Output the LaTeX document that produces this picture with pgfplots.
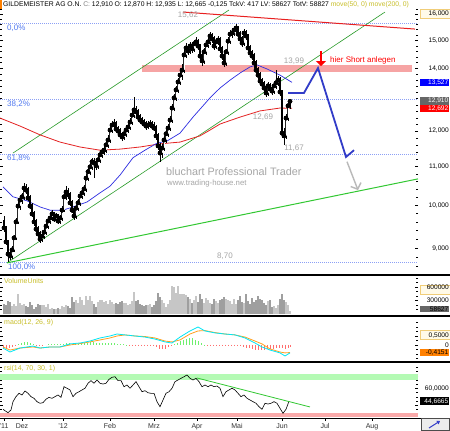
\documentclass[border=0pt]{standalone}
\usepackage{pgfplots}
\pgfplotsset{compat=1.18}
\usepackage{pgfplotstable}
\usepackage{fontspec}
\setmainfont{Liberation Sans}
\usetikzlibrary{arrows.meta}

\definecolor{fibblue}{RGB}{140,160,245}
\definecolor{fibtxt}{RGB}{80,120,240}
\definecolor{bandpink}{RGB}{246,164,164}
\definecolor{trendred}{RGB}{232,32,32}
\definecolor{chgreen}{RGB}{40,155,40}
\definecolor{lgreen}{RGB}{50,200,50}
\definecolor{maBlue}{RGB}{45,45,225}
\definecolor{maRed}{RGB}{228,35,35}
\definecolor{projblue}{RGB}{50,60,200}
\definecolor{paneltxt}{RGB}{200,190,40}
\definecolor{valgrey}{RGB}{165,165,165}
\definecolor{macdcyan}{RGB}{0,230,245}
\definecolor{macdorange}{RGB}{255,160,30}
\definecolor{histgreen}{RGB}{110,240,110}
\definecolor{histred}{RGB}{255,110,110}
\definecolor{rsigreen}{RGB}{180,250,180}
\definecolor{rsired}{RGB}{250,170,170}
\definecolor{cream}{RGB}{255,250,232}
\definecolor{creamedge}{RGB}{240,205,120}

\pgfplotstableread{
x o h l c
4 9.65 9.74 9.36 9.46
6 9.46 9.50 9.07 9.14
8 9.14 9.18 8.70 8.87
10 8.87 8.96 8.74 8.83
12 8.83 9.05 8.76 8.96
14 8.96 9.30 8.92 9.23
16 9.23 9.69 9.18 9.60
18 9.60 10.08 9.55 9.98
20 9.98 10.23 9.88 10.13
22 10.13 10.31 10.03 10.21
24 10.21 10.56 10.13 10.43
26 10.43 10.54 10.28 10.38
28 10.38 10.46 10.11 10.18
30 10.18 10.26 9.91 9.98
32 9.98 10.06 9.71 9.79
34 9.79 9.86 9.50 9.60
36 9.60 9.67 9.34 9.43
38 9.43 9.50 9.23 9.32
40 9.32 9.39 9.12 9.20
42 9.20 9.36 9.14 9.27
44 9.27 9.46 9.20 9.36
46 9.36 9.60 9.30 9.50
48 9.50 9.71 9.43 9.62
50 9.62 9.79 9.55 9.69
52 9.69 9.88 9.62 9.79
54 9.79 9.83 9.60 9.67
56 9.67 9.81 9.60 9.74
58 9.74 9.79 9.55 9.62
60 9.62 9.76 9.55 9.69
62 9.69 9.98 9.62 9.88
64 9.88 10.33 9.83 10.21
66 10.21 10.48 10.13 10.33
68 10.33 10.43 10.16 10.26
70 10.26 10.33 9.98 10.06
72 10.06 10.13 9.81 9.88
74 9.88 9.96 9.65 9.74
76 9.74 10.01 9.67 9.93
78 9.93 10.16 9.86 10.06
80 10.06 10.33 9.98 10.23
82 10.23 10.41 10.16 10.31
84 10.31 10.51 10.23 10.41
86 10.41 10.80 10.33 10.69
88 10.69 10.96 10.61 10.86
90 10.86 11.10 10.77 10.99
92 10.99 11.24 10.91 11.13
94 11.13 11.24 10.69 11.10
96 11.10 11.18 10.91 11.02
98 11.02 11.29 10.94 11.18
100 11.18 11.43 11.10 11.32
102 11.32 11.51 11.24 11.40
104 11.40 11.57 11.32 11.45
106 11.45 11.71 11.37 11.60
108 11.60 11.89 11.51 11.74
110 11.74 12.15 11.65 12.03
112 12.03 12.30 11.94 12.18
114 12.18 12.36 12.09 12.21
116 12.21 12.30 11.97 12.06
118 12.06 12.15 11.89 12.00
120 12.00 12.09 11.80 11.89
122 11.89 11.97 11.71 11.83
124 11.83 12.03 11.74 11.92
126 11.92 12.15 11.83 12.03
128 12.03 12.24 11.94 12.12
130 12.12 12.39 12.03 12.27
132 12.27 12.64 12.18 12.48
134 12.48 13.05 12.39 12.64
136 12.64 12.77 12.45 12.58
138 12.58 12.67 12.33 12.42
140 12.42 12.52 12.21 12.33
142 12.33 12.42 12.15 12.27
144 12.27 12.36 12.09 12.21
146 12.21 12.30 12.03 12.15
148 12.15 12.30 12.06 12.18
150 12.18 12.33 12.09 12.21
152 12.21 12.30 12.03 12.15
154 12.15 12.27 12.00 12.09
156 12.09 12.18 11.74 11.86
158 11.86 11.94 11.45 11.57
160 11.57 11.65 11.13 11.37
162 11.37 11.63 11.24 11.51
164 11.51 11.86 11.43 11.74
166 11.74 12.03 11.65 11.92
168 11.92 12.21 11.83 12.09
170 12.09 12.45 12.00 12.33
172 12.33 12.83 12.24 12.70
174 12.70 13.15 12.61 13.02
176 13.02 13.41 12.92 13.28
178 13.28 13.67 13.18 13.54
180 13.54 13.94 13.44 13.77
182 13.77 14.15 13.60 13.94
184 13.94 14.65 13.84 14.47
186 14.47 14.90 14.36 14.72
188 14.72 14.87 14.47 14.61
190 14.61 14.94 14.51 14.79
192 14.79 14.90 14.54 14.69
194 14.69 15.01 14.58 14.87
196 14.87 15.12 14.76 14.94
198 14.94 15.05 14.65 14.79
200 14.79 14.87 14.29 14.43
202 14.43 14.54 14.08 14.26
204 14.26 14.72 14.15 14.58
206 14.58 14.97 14.47 14.83
208 14.83 15.08 14.72 14.94
210 14.94 15.31 14.83 15.16
212 15.16 15.27 14.90 15.05
214 15.05 15.16 14.65 14.79
216 14.79 15.08 14.69 14.94
218 14.94 15.16 14.83 15.01
220 15.01 15.12 14.54 14.69
222 14.69 14.79 14.29 14.43
224 14.43 14.54 14.05 14.19
226 14.19 14.69 14.08 14.58
228 14.58 15.12 14.47 14.97
230 14.97 15.38 14.87 15.23
232 15.23 15.46 15.08 15.27
234 15.27 15.53 15.16 15.38
236 15.38 15.61 15.27 15.46
238 15.46 15.53 15.08 15.23
240 15.23 15.34 14.90 15.05
242 15.05 15.16 14.76 14.90
244 14.90 15.42 14.79 15.27
246 15.27 15.38 15.01 15.16
248 15.16 15.23 14.61 14.72
250 14.72 14.83 14.40 14.54
252 14.54 14.65 14.29 14.43
254 14.43 14.54 14.01 14.19
256 14.19 14.29 13.81 13.94
258 13.94 14.05 13.64 13.77
260 13.77 13.87 13.44 13.57
262 13.57 13.67 13.34 13.47
264 13.47 13.57 13.21 13.34
266 13.34 13.44 13.05 13.18
268 13.18 13.54 13.08 13.41
270 13.41 13.51 13.18 13.31
272 13.31 13.44 13.11 13.24
274 13.24 13.54 13.15 13.41
276 13.41 13.94 13.31 13.51
278 13.51 13.74 13.41 13.60
280 13.60 13.70 13.08 13.21
282 13.21 13.28 11.80 11.94
284 11.94 12.09 11.60 11.86
286 11.86 12.52 11.77 12.39
288 12.39 12.89 12.30 12.77
290 12.87 12.935 12.665 12.91
}\candles

\pgfplotstableread{
x v
12 180000
14 220000
16 170000
18 450000
20 250000
22 200000
24 230000
42 190000
44 210000
46 160000
48 230000
50 120000
52 140000
56 110000
60 100000
62 170000
64 150000
66 200000
76 320000
78 240000
80 380000
82 300000
84 200000
86 400000
88 300000
90 390000
92 280000
98 260000
100 300000
102 320000
104 260000
106 280000
108 230000
110 300000
112 260000
114 220000
124 240000
126 250000
128 200000
130 230000
132 290000
134 490000
148 190000
150 220000
162 320000
164 250000
166 160000
168 220000
170 300000
172 610000
174 600000
176 460000
178 620000
180 450000
182 440000
184 440000
186 420000
190 330000
194 300000
196 400000
204 250000
206 360000
208 300000
210 240000
216 280000
218 250000
226 330000
228 300000
230 280000
232 230000
234 330000
236 220000
244 250000
268 280000
274 170000
276 140000
278 200000
286 260000
288 200000
290 58627
}\volup

\pgfplotstableread{
x v
4 230000
6 200000
8 280000
10 260000
26 180000
28 150000
30 260000
32 200000
34 120000
36 150000
38 230000
40 200000
54 100000
58 130000
68 180000
70 140000
72 380000
74 260000
94 220000
96 160000
116 250000
118 230000
120 260000
122 280000
136 280000
138 300000
140 230000
142 200000
144 180000
146 200000
152 160000
154 200000
156 280000
158 470000
160 380000
188 380000
192 250000
198 260000
200 450000
202 330000
212 230000
214 330000
220 300000
222 340000
224 380000
238 300000
240 400000
242 260000
246 450000
248 280000
250 230000
252 350000
254 260000
256 300000
258 400000
260 330000
262 300000
264 250000
266 200000
270 300000
272 160000
280 330000
282 440000
284 300000
}\voldn

\pgfplotsset{
  panel/.style={
    scale only axis, width=418pt, xmin=0, xmax=418, anchor=south west,
    axis line style={draw=none}, xtick=\empty,
    ytick pos=both, yticklabel pos=right,
    scaled y ticks=false,
    tick style={black, line width=0.4pt},
    major tick length=3pt, minor tick length=1.8pt,
    yticklabel style={font=\fontsize{6.6}{7}\selectfont, anchor=east, xshift=32pt, inner sep=1pt},
    /pgf/number format/assume math mode=true,
  },
}

\begin{document}
\begin{tikzpicture}
\path[use as bounding box] (0pt,0pt) rectangle (450pt,431pt);
\fill[white] (0pt,0pt) rectangle (450pt,431pt);
% cream label boxes (right column)
\filldraw[fill=cream, draw=creamedge, line width=0.5pt] (420.5pt,412.5pt) rectangle (450pt,421.5pt);
\filldraw[fill=cream, draw=creamedge, line width=0.5pt] (420.5pt,136.5pt) rectangle (450pt,145.5pt);
\filldraw[fill=cream, draw=creamedge, line width=0.5pt] (420.5pt,91.5pt) rectangle (450pt,100.5pt);
\fill[orange] (0pt,422pt) rectangle (2pt,431pt);

% ================= MAIN PRICE PANEL =================
\begin{axis}[panel, at={(0pt,157pt)}, height=266pt,
  ymode=log, ymin=8.446, ymax=16.24,
  ytick={9,10,11,12,14,15,16},
  yticklabels={{9,000},{10,000},{11,000},{12,000},{14,000},{15,000},{16,000}},
  minor ytick={8.6,8.8,9.2,9.4,9.6,9.8,10.2,10.4,10.6,10.8,11.2,11.4,11.6,11.8,12.2,12.4,12.6,12.8,13,13.2,13.4,13.6,13.8,14.2,14.4,14.6,14.8,15.2,15.4,15.6,15.8,16.2},
]
\addplot[fill=bandpink, draw=none] coordinates {(142,13.87) (412,13.87) (412,14.12) (142,14.12)};
\addplot[fibblue, line width=0.8pt, dash pattern=on 1pt off 1pt] coordinates {(0,15.62) (418,15.62)};
\addplot[fibblue, line width=0.8pt, dash pattern=on 1pt off 1pt] coordinates {(0,12.98) (418,12.98)};
\addplot[fibblue, line width=0.8pt, dash pattern=on 1pt off 1pt] coordinates {(0,11.34) (418,11.34)};
\addplot[fibblue, line width=0.8pt, dash pattern=on 1pt off 1pt] coordinates {(0,8.70) (418,8.70)};
\addplot[chgreen, line width=0.6pt] coordinates {(13,11.37) (229,16.16)};
\addplot[chgreen, line width=0.6pt] coordinates {(7,8.68) (385,16.08)};
\addplot[lgreen, line width=1pt] coordinates {(7,8.68) (418,10.67)};
\addplot[trendred, line width=1pt] coordinates {(183,16.08) (415,15.42)};
\addplot[maRed, line width=0.8pt] coordinates {(0,12.39) (20,12.15) (40,11.89) (60,11.68) (80,11.54) (100,11.45) (120,11.48) (140,11.54) (160,11.63) (180,11.68) (200,11.86) (210,12.03) (220,12.21) (240,12.42) (260,12.61) (280,12.70) (292,12.69)};
\addplot[maBlue, line width=0.7pt] coordinates {(3,10.46) (13,10.21) (27,10.11) (40,9.96) (50,9.88) (63,9.88) (73,9.96) (87,10.08) (100,10.31) (110,10.48) (120,10.77) (133,11.24) (145,11.45) (157,11.65) (167,11.71) (180,11.94) (193,12.42) (210,13.02) (220,13.34) (230,13.60) (240,13.84) (250,14.05) (257,14.12) (267,13.98) (280,13.77) (292,13.527)};
% wicks
\addplot[only marks, mark=none,
  error bars/.cd, y dir=both, y explicit, error mark=none,
  error bar style={line width=0.4pt, black}]
  table[x=x, y=c, y error plus expr={\thisrow{h}-\thisrow{c}}, y error minus expr={\thisrow{c}-\thisrow{l}}] {\candles};
% falling bodies (black)
\addplot[only marks, mark=none,
  error bars/.cd, y dir=plus, y explicit, error mark=none,
  error bar style={line width=1.4pt, black}]
  table[x=x, y=c, y error plus expr={max(\thisrow{o}-\thisrow{c},0)}] {\candles};
% rising bodies (hollow: outline, then white core)
\addplot[only marks, mark=none,
  error bars/.cd, y dir=minus, y explicit, error mark=none,
  error bar style={line width=1.6pt, black!85}]
  table[x=x, y=c, y error minus expr={max(\thisrow{c}-\thisrow{o},0)}] {\candles};
\addplot[only marks, mark=none,
  error bars/.cd, y dir=minus, y explicit, error mark=none,
  error bar style={line width=0.6pt, white}]
  table[x=x, y=c, y error minus expr={max(\thisrow{c}-\thisrow{o},0)}] {\candles};
\addplot[projblue, line width=1.8pt] coordinates {(288,13.18) (304,13.18) (318,14.01) (346,11.26) (354,11.45)};
\end{axis}

% overlay axis for arrows
\begin{axis}[scale only axis, width=418pt, height=266pt, at={(0pt,157pt)}, anchor=south west,
  xmin=0, xmax=418, ymode=log, ymin=8.446, ymax=16.24, hide axis]
\addplot[gray!55, line width=1.4pt, -{Straight Barb[length=5pt,width=11pt]}] coordinates {(347,11.13) (358,10.38)};
\addplot[red, line width=2.6pt, -{Triangle[length=5pt,width=10pt]}] coordinates {(321,14.60) (321,14.08)};
\end{axis}

% ================= VOLUME PANEL =================
\begin{axis}[panel, at={(0pt,117pt)}, height=37pt,
  ymin=0, ymax=820000,
  ytick={300000,600000}, yticklabels={300000,600000},
  minor ytick={100000,200000,400000,500000,700000,800000},
]
\addplot[ycomb, draw=gray!45, line width=1.2pt, mark=none] table[x=x,y=v] {\volup};
\addplot[ycomb, draw=gray!75, line width=1.2pt, mark=none] table[x=x,y=v] {\voldn};
\end{axis}

% ================= MACD PANEL =================
\begin{axis}[panel, at={(0pt,70pt)}, height=43pt,
  ymin=-0.89, ymax=1.5,
  ytick={0,0.5}, yticklabels={0,{0,5000}},
  minor ytick={-0.75,-0.5,-0.25,0.25,0.75,1,1.25},
]
\addplot[ycomb, draw=histgreen, line width=1pt, mark=none] coordinates {(18,0.05) (21,0.12) (24,0.17) (27,0.14) (30,0.1) (33,0.05) (48,0.03) (51,0.04) (54,0.05) (57,0.04) (60,0.05) (63,0.08) (66,0.1) (69,0.09) (72,0.08) (75,0.07) (78,0.08) (81,0.1) (84,0.12) (87,0.13) (90,0.14) (93,0.14) (96,0.12) (99,0.12) (102,0.1) (105,0.1) (108,0.1) (111,0.1) (114,0.09) (117,0.08) (120,0.06) (123,0.04) (126,0.01) (174,0.06) (177,0.12) (180,0.2) (183,0.28) (186,0.34) (189,0.4) (192,0.38) (195,0.3) (198,0.22) (201,0.1) (204,0.02)};
\addplot[ycomb, draw=histred, line width=1pt, mark=none] coordinates {(3,-0.2) (6,-0.22) (9,-0.18) (12,-0.1) (15,-0.05) (36,-0.03) (39,-0.04) (42,-0.02) (129,-0.02) (132,-0.02) (135,-0.02) (138,-0.02) (141,-0.03) (144,-0.05) (147,-0.06) (150,-0.06) (153,-0.08) (156,-0.12) (159,-0.2) (162,-0.25) (165,-0.2) (168,-0.12) (171,-0.04) (207,-0.03) (210,-0.04) (213,-0.03) (216,-0.04) (219,-0.05) (222,-0.06) (225,-0.05) (228,-0.03) (231,-0.02) (234,-0.03) (237,-0.05) (240,-0.08) (243,-0.12) (246,-0.15) (249,-0.18) (252,-0.22) (255,-0.26) (258,-0.3) (261,-0.3) (264,-0.28) (267,-0.25) (270,-0.22) (273,-0.2) (276,-0.18) (279,-0.16) (282,-0.18) (285,-0.2) (288,-0.15) (290,-0.1)};
\addplot[macdorange, line width=0.8pt] coordinates {(3,-0.11) (10,-0.28) (20,-0.17) (33,-0.11) (40,-0.17) (50,-0.11) (60,-0.11) (70,0.0) (80,0.08) (90,0.17) (100,0.28) (110,0.39) (117,0.5) (125,0.56) (135,0.5) (145,0.47) (155,0.39) (165,0.22) (172,0.17) (180,0.28) (190,0.61) (198,0.78) (205,0.8) (215,0.69) (225,0.61) (235,0.56) (245,0.44) (255,0.22) (262,0.06) (270,-0.22) (280,-0.39) (285,-0.44) (290,-0.42)};
\addplot[macdcyan, line width=0.8pt] coordinates {(3,-0.17) (10,-0.39) (20,-0.17) (33,-0.06) (40,-0.17) (50,-0.11) (60,-0.11) (70,0.06) (80,0.11) (90,0.22) (100,0.39) (110,0.5) (117,0.61) (125,0.56) (135,0.5) (145,0.44) (155,0.33) (165,0.17) (172,0.11) (180,0.44) (190,0.78) (198,1.0) (205,0.78) (215,0.67) (225,0.61) (235,0.56) (245,0.39) (255,0.11) (262,-0.11) (270,-0.28) (280,-0.44) (285,-0.61) (290,-0.44)};
\end{axis}

% ================= RSI PANEL =================
\begin{axis}[panel, at={(0pt,13pt)}, height=54pt,
  ymin=24.6, ymax=89.1,
  ytick={40,60}, yticklabels={{},{60,0000}},
  minor ytick={30,35,45,50,55,65,70,75,80,85},
  xtick={4,22,63,110,154,197,237,282,325,372},
  xticklabels={’11,Dez,’12,Feb,Mrz,Apr,Mai,Jun,Jul,Aug},
  xtick pos=bottom, xtick align=outside,
  xticklabel style={font=\fontsize{7}{8}\selectfont, text=black!80, yshift=1pt},
]
\addplot[fill=rsigreen, draw=none] coordinates {(0,70) (418,70) (418,77.2) (0,77.2)};
\addplot[fill=rsired, draw=none] coordinates {(0,25.8) (418,25.8) (418,30) (0,30)};
\addplot[black, line width=0.6pt] coordinates {(3,35.0) (5,33.3) (8,31.0) (11,34.2) (13,44.1) (16,50.1) (19,54.1) (22,52.1) (25,56.9) (28,54.1) (31,50.1) (34,48.1) (37,44.1) (40,42.2) (43,42.9) (46,47.0) (49,49.3) (52,48.1) (55,50.1) (58,52.1) (61,49.3) (64,62.0) (67,60.1) (70,58.1) (73,50.1) (76,54.1) (79,56.0) (82,58.1) (85,60.1) (88,66.1) (91,69.2) (94,66.1) (97,70.0) (100,66.1) (103,65.2) (106,66.1) (109,70.8) (112,73.2) (115,73.9) (118,69.2) (121,69.2) (124,62.0) (127,64.0) (130,60.1) (133,64.0) (136,68.0) (139,62.0) (142,56.0) (145,57.2) (148,54.8) (151,54.1) (154,54.1) (157,44.1) (160,38.1) (163,46.1) (166,54.1) (169,56.0) (172,60.1) (175,68.0) (178,70.0) (181,72.0) (184,73.9) (187,76.0) (190,72.0) (193,70.0) (196,72.0) (199,68.0) (202,62.0) (205,64.0) (208,62.0) (211,64.0) (214,62.0) (217,62.8) (220,60.1) (223,50.1) (226,56.0) (229,58.1) (232,60.1) (235,58.1) (238,54.1) (241,50.1) (244,52.1) (247,48.1) (250,46.1) (253,44.1) (256,42.2) (259,38.1) (262,35.0) (265,42.2) (268,41.3) (271,42.2) (274,44.1) (277,42.2) (280,36.2) (283,30.2) (286,35.0) (289,44.67)};
\addplot[lgreen, line width=0.8pt] coordinates {(197,72.4) (310,37.8)};
\end{axis}

% text annotations (absolute positions)
\tikzset{fibl/.style={anchor=west, text=fibtxt, font=\fontsize{8}{9}\selectfont, inner sep=0pt},
         vall/.style={text=valgrey, font=\fontsize{8}{9}\selectfont, inner sep=0pt},
         plabel/.style={anchor=west, text=paneltxt, font=\fontsize{7}{8}\selectfont, inner sep=0pt}}
\node[fibl] at (7pt,403pt) {0,0\%};
\node[fibl] at (7pt,327pt) {38,2\%};
\node[fibl] at (7pt,273pt) {61,8\%};
\node[fibl] at (8pt,164pt) {100,0\%};
\node[vall] at (188pt,416pt) {15,62};
\node[vall] at (294pt,370pt) {13,99};
\node[vall] at (263pt,314pt) {12,69};
\node[vall] at (294pt,283pt) {11,67};
\node[vall] at (225pt,175pt) {8,70};
\node[anchor=west, text=gray!70, font=\fontsize{10.8}{12}\selectfont, inner sep=0pt] at (166pt,259pt) {bluchart Professional Trader};
\node[anchor=west, text=gray!70, font=\fontsize{7.8}{9}\selectfont, inner sep=0pt] at (167pt,248pt) {www.trading-house.net};
\node[anchor=west, text=red, font=\fontsize{8}{9}\selectfont, inner sep=0pt] at (330pt,371pt) {hier Short anlegen};
\node[plabel] at (4pt,150pt) {VolumeUnits};
\node[plabel] at (4pt,108pt) {macd(12, 26, 9)};
\node[plabel] at (4pt,62pt) {rsi(14, 70, 30, 1)};

% panel separators
\draw[black, line width=2.2pt] (0pt,155.6pt) -- (450pt,155.6pt);
\draw[black, line width=2.2pt] (0pt,115.3pt) -- (450pt,115.3pt);
\draw[black, line width=2.2pt] (0pt,68.6pt) -- (450pt,68.6pt);
\draw[black, line width=0.8pt] (0pt,13pt) -- (450pt,13pt);
\filldraw[fill=gray!15, draw=black!70, line width=0.6pt] (421pt,0.5pt) rectangle (449.5pt,12.5pt);
\draw[projblue, line width=1pt, -{Triangle[length=3pt,width=4pt]}] (429pt,3pt) -- (440pt,10pt);

% value boxes on the right
\tikzset{vbox/.style={anchor=east, inner sep=1pt, text width=27.5pt, align=right, font=\fontsize{6.6}{7}\selectfont}}
\node[vbox, fill=blue, text=white] at (449.5pt,348.6pt) {13,527};
\node[vbox, fill=black!60, text=white] at (449.5pt,329.9pt) {12,910};
\node[vbox, fill=red, text=white] at (449.5pt,322.4pt) {12,692};
\node[vbox, fill=black!60, text=black] at (449.5pt,122pt) {58627};
\node[vbox, fill=orange, text=black] at (449.5pt,78.5pt) {-0,4151};
\node[vbox, fill=black, text=white] at (449.5pt,29.8pt) {44,6665};

% title
\node[anchor=west, inner sep=0pt, font=\fontsize{6.8}{8}\selectfont] at (3pt,426.5pt)
  {GILDEMEISTER AG O.N. \textcolor{gray}{C:} 12,910 O: 12,870 H: 12,935 L: 12,665 -0,125 TckV: 417 LV: 58627 TotV: 58827 \textcolor{paneltxt}{move(50, 0) move(200, 0)}};
\end{tikzpicture}
\end{document}
